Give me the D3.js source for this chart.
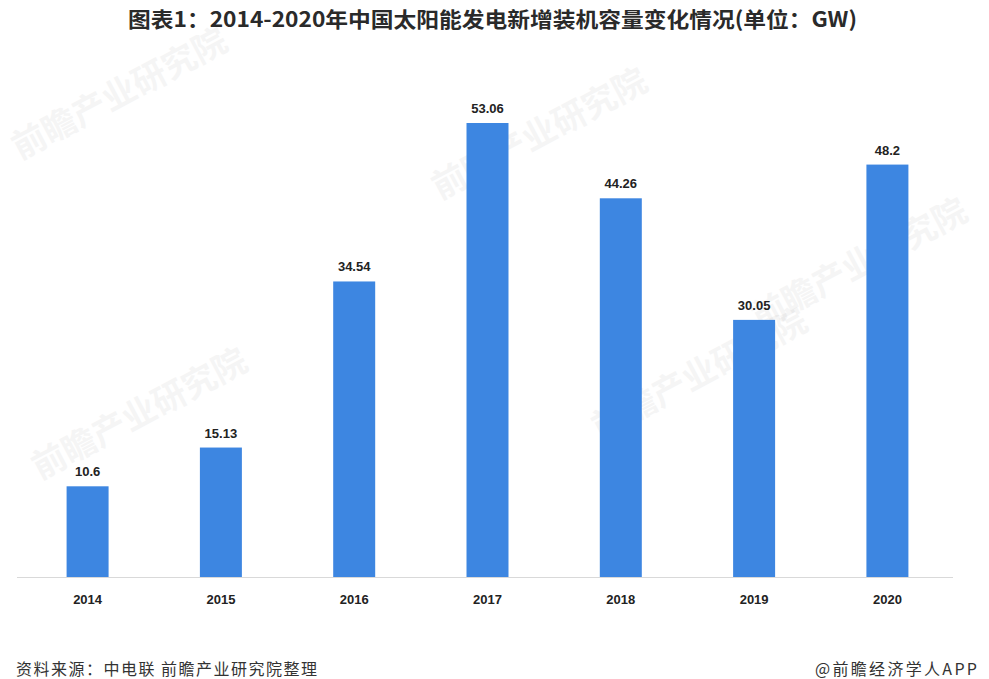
<!DOCTYPE html>
<html>
<head>
<meta charset="utf-8">
<script src="https://cdn.jsdelivr.net/npm/d3@7"></script>
<style>
  html, body { margin: 0; padding: 0; background: #fff; }
  svg { display: block; }
</style>
</head>
<body>
<svg id="chart" width="989" height="679"></svg>
<script>
const years = ["2014", "2015", "2016", "2017", "2018", "2019", "2020"];
const values = [10.6, 15.13, 34.54, 53.06, 44.26, 30.05, 48.2];
const valueLabels = ["10.6", "15.13", "34.54", "53.06", "44.26", "30.05", "48.2"];
const titleText = "图表1：2014-2020年中国太阳能发电新增装机容量变化情况(单位：GW)";
const sourceText = "资料来源：中电联 前瞻产业研究院整理";
const brandText = "@前瞻经济学人APP";

const svg = d3.select("#chart");
const fontCJK = "'Noto Sans CJK SC', 'Noto Sans', sans-serif";

// watermarks
const wm = [[20, 160], [440, 200], [760, 330], [40, 480], [600, 440]];
wm.forEach(([x, y]) => {
  svg.append("text")
    .attr("transform", `translate(${x},${y}) rotate(-28)`)
    .attr("font-family", fontCJK)
    .attr("font-size", 34)
    .attr("font-weight", "bold")
    .attr("fill", "#000")
    .attr("opacity", 0.035)
    .text("前瞻产业研究院");
});

const x = d3.scaleBand().domain(years).range([21, 954]).paddingInner(0.685).paddingOuter(0.342);
const y = d3.scaleLinear().domain([0, 53.06]).range([577, 123]);

// baseline
svg.append("line")
  .attr("x1", 17).attr("x2", 953)
  .attr("y1", y(0) + 0.5).attr("y2", y(0) + 0.5)
  .attr("stroke", "#d9d9d9").attr("stroke-width", 1.2);

svg.selectAll("rect.bar").data(values).join("rect")
  .attr("class", "bar")
  .attr("x", (d, i) => x(years[i]))
  .attr("width", x.bandwidth())
  .attr("y", d => y(d))
  .attr("height", d => y(0) - y(d))
  .attr("fill", "#3d86e1");

svg.selectAll("text.val").data(values).join("text")
  .attr("class", "val")
  .attr("x", (d, i) => x(years[i]) + x.bandwidth() / 2)
  .attr("y", d => y(d) - 10)
  .attr("text-anchor", "middle")
  .attr("font-family", "'Liberation Sans', Arial, sans-serif")
  .attr("font-weight", "bold")
  .attr("font-size", 13)
  .attr("fill", "#222")
  .text((d, i) => valueLabels[i]);

// x-axis labels
const xAxis = d3.axisBottom(x).tickSize(0).tickPadding(0);
const gx = svg.append("g").attr("transform", `translate(0,${y(0)})`).call(xAxis);
gx.select(".domain").remove();
gx.selectAll("text")
  .attr("y", 27)
  .attr("dy", 0)
  .attr("font-family", "'Liberation Sans', Arial, sans-serif")
  .attr("font-weight", "bold")
  .attr("font-size", 13)
  .attr("fill", "#222");

// title
svg.append("text")
  .attr("x", 128).attr("y", 27)
  .attr("font-family", fontCJK)
  .attr("font-weight", "bold")
  .attr("font-size", 21)
  .attr("textLength", 729)
  .attr("lengthAdjust", "spacingAndGlyphs")
  .attr("fill", "#2a2a2a")
  .text(titleText);

// footer
svg.append("text")
  .attr("x", 16).attr("y", 675)
  .attr("font-family", fontCJK)
  .attr("font-size", 16)
  .attr("textLength", 301)
  .attr("lengthAdjust", "spacing")
  .attr("fill", "#333")
  .text(sourceText);
svg.append("text")
  .attr("x", 815).attr("y", 675)
  .attr("font-family", fontCJK)
  .attr("font-size", 16)
  .attr("textLength", 162)
  .attr("lengthAdjust", "spacing")
  .attr("fill", "#333")
  .text(brandText);
</script>
</body>
</html>
